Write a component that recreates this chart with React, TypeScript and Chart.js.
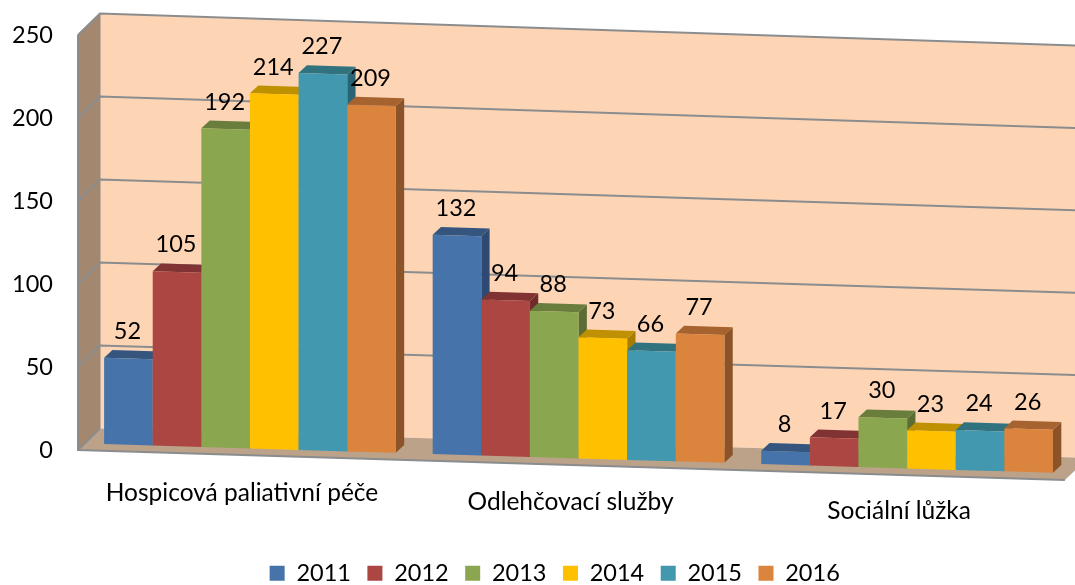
import React, { useEffect, useRef } from "react";
import { Chart, registerables } from "chart.js";

Chart.register(...registerables);

const categories = ["Hospicová paliativní péče", "Odlehčovací služby", "Sociální lůžka"];
const years = ["2011", "2012", "2013", "2014", "2015", "2016"];
const values2011 = [52, 132, 8];
const values2012 = [105, 94, 17];
const values2013 = [192, 88, 30];
const values2014 = [214, 73, 23];
const values2015 = [227, 66, 24];
const values2016 = [209, 77, 26];
const seriesValues = [values2011, values2012, values2013, values2014, values2015, values2016];
const frontColors = ["#4674AA", "#AB4642", "#8AA64F", "#FFC000", "#4198AF", "#DB843D"];
const topColors = ["#35557F", "#803332", "#697E3C", "#BF9000", "#31727F", "#A66330"];
const sideColors = ["#2E4A72", "#6F2C2B", "#5B6D34", "#A67D00", "#2A6474", "#8B5327"];

const FONT = "Lato, Carlito, sans-serif";
const SLOPE = 0.0304;
const WALL_DX = 22;
const WALL_DY = 21.5;
const BAR_LIFT = 6.8;
const BAR_DX = 8.3;
const BAR_DY = 8;
const FRAME_LEFT = 78;
const GRID = "#8A8C8E";
const DIGIT_SIZE = 23.5;
const LABEL_SIZE = 24.5;
const LEGEND_SHIFT_X = 19;
const LEGEND_SHIFT_Y = 10;

const threeD = {
  id: "threeD",
  afterLayout(chart: any) {
    const l = chart.legend;
    l.left += LEGEND_SHIFT_X;
    l.right += LEGEND_SHIFT_X;
    l.top += LEGEND_SHIFT_Y;
    l.bottom += LEGEND_SHIFT_Y;
  },
  beforeDatasetsDraw(chart: any) {
    const ctx = chart.ctx as CanvasRenderingContext2D;
    const y = chart.scales.y;
    const x = chart.scales.x;
    const W = chart.width;
    const y0 = y.getPixelForValue(0);
    const yTop = y.getPixelForValue(250);
    const backX = FRAME_LEFT + WALL_DX;
    const backSlope = (v: number) => 0.0297 + (0.0032 * v) / 250;
    const backY = (v: number, px: number) => y.getPixelForValue(v) - WALL_DY + backSlope(v) * (px - backX);

    ctx.save();
    // back wall
    ctx.fillStyle = "#FDD5B5";
    ctx.beginPath();
    ctx.moveTo(backX, backY(250, backX));
    ctx.lineTo(W, backY(250, W));
    ctx.lineTo(W, backY(0, W));
    ctx.lineTo(backX, backY(0, backX));
    ctx.closePath();
    ctx.fill();
    // side wall
    ctx.fillStyle = "#A3886F";
    ctx.beginPath();
    ctx.moveTo(FRAME_LEFT, yTop);
    ctx.lineTo(backX, backY(250, backX));
    ctx.lineTo(backX, backY(0, backX));
    ctx.lineTo(FRAME_LEFT, y0);
    ctx.closePath();
    ctx.fill();
    // floor
    const frontEnd = x.right - 6.5;
    const floorFront = (px: number) => y0 + SLOPE * (px - FRAME_LEFT);
    ctx.fillStyle = "#BDA28A";
    ctx.beginPath();
    ctx.moveTo(FRAME_LEFT, y0);
    ctx.lineTo(backX, backY(0, backX));
    ctx.lineTo(W, backY(0, W));
    ctx.lineTo(W, floorFront(frontEnd) - 9.5);
    ctx.lineTo(frontEnd, floorFront(frontEnd));
    ctx.closePath();
    ctx.fill();
    // grid
    ctx.strokeStyle = GRID;
    ctx.lineWidth = 2;
    for (const t of y.ticks) {
      const v = t.value;
      const py = y.getPixelForValue(v);
      ctx.beginPath();
      ctx.moveTo(FRAME_LEFT, py);
      ctx.lineTo(backX, backY(v, backX));
      if (v > 0) ctx.lineTo(W, backY(v, W));
      ctx.stroke();
    }
    ctx.beginPath();
    ctx.moveTo(FRAME_LEFT, yTop);
    ctx.lineTo(FRAME_LEFT, y0);
    ctx.lineTo(frontEnd, floorFront(frontEnd));
    ctx.stroke();
    ctx.lineWidth = 1;
    ctx.beginPath();
    ctx.moveTo(backX, backY(250, backX));
    ctx.lineTo(backX, backY(0, backX));
    ctx.stroke();

    // bars, in series order so that later bars cover earlier sides
    ctx.save();
    ctx.transform(1, SLOPE, 0, 1, 0, -SLOPE * FRAME_LEFT - BAR_LIFT);
    chart.data.datasets.forEach((_: any, di: number) => {
      const meta = chart.getDatasetMeta(di);
      meta.data.forEach((bar: any) => {
        const { x: bx, y: by, base, width } = bar.getProps(["x", "y", "base", "width"], true);
        const r = bx + width / 2;
        const l = bx - width / 2;
        ctx.fillStyle = sideColors[di];
        ctx.beginPath();
        ctx.moveTo(r, by);
        ctx.lineTo(r + BAR_DX, by - BAR_DY);
        ctx.lineTo(r + BAR_DX, base - BAR_DY);
        ctx.lineTo(r, base);
        ctx.closePath();
        ctx.fill();
        ctx.fillStyle = topColors[di];
        ctx.beginPath();
        ctx.moveTo(l, by);
        ctx.lineTo(l + BAR_DX, by - BAR_DY);
        ctx.lineTo(r + BAR_DX, by - BAR_DY);
        ctx.lineTo(r, by);
        ctx.closePath();
        ctx.fill();
        bar.draw(ctx);
      });
    });
    ctx.restore();

    // value labels
    ctx.fillStyle = "#000";
    ctx.font = `${DIGIT_SIZE}px ${FONT}`;
    ctx.textAlign = "center";
    ctx.textBaseline = "middle";
    chart.data.datasets.forEach((ds: any, di: number) => {
      chart.getDatasetMeta(di).data.forEach((bar: any, i: number) => {
        const { x: bx, y: by } = bar.getProps(["x", "y"], true);
        const py = by + SLOPE * (bx - FRAME_LEFT) - BAR_LIFT - 27;
        ctx.fillText(String(ds.data[i]), bx - 1, py);
      });
    });

    // category labels follow the slope of the floor
    ctx.font = `${LABEL_SIZE}px ${FONT}`;
    ctx.textBaseline = "alphabetic";
    categories.forEach((c, i) => {
      const px = x.getPixelForTick(i);
      ctx.fillText(c, px - 8, y0 + 50.5 + 0.0282 * (px - x.getPixelForTick(0)));
    });
    ctx.restore();
    return false;
  },
};

export default function App() {
  const ref = useRef<HTMLCanvasElement>(null);
  useEffect(() => {
    const chart = new Chart(ref.current!, {
      type: "bar",
      data: {
        labels: categories,
        datasets: years.map((label, i) => ({
          label,
          data: seriesValues[i],
          backgroundColor: frontColors[i],
          borderWidth: 0,
          barPercentage: 1,
          categoryPercentage: 0.888,
        })),
      },
      options: {
        responsive: false,
        animation: false,
        layout: { padding: { left: 0, right: 3.6, top: 35, bottom: 0 } },
        font: { family: FONT },
        scales: {
          x: {
            grid: { display: false },
            border: { display: false },
            ticks: { display: false },
            afterFit: (s: any) => { s.height = 85; },
          },
          y: {
            min: 0,
            max: 250,
            grid: { display: false, drawTicks: false },
            border: { display: false },
            ticks: { stepSize: 50, padding: 32.7, color: "#000", font: { family: FONT, size: DIGIT_SIZE } },
            afterFit: (s: any) => { s.width = 85.7; s.paddingTop = 0; s.paddingBottom = 0; },
          },
        },
        plugins: {
          tooltip: { enabled: false },
          legend: {
            position: "bottom",
            labels: {
              boxWidth: 15,
              boxHeight: 15,
              padding: 16.5,
              color: "#000",
              font: { family: FONT, size: DIGIT_SIZE },
            },
          },
        },
      } as any,
      plugins: [threeD],
    });
    return () => chart.destroy();
  }, []);
  return (
    <div style={{ position: "fixed", left: 0, top: 0, width: 1075, height: 585, background: "#fff" }}>
      <canvas ref={ref} width={1075} height={585} style={{ display: "block" }} />
    </div>
  );
}
